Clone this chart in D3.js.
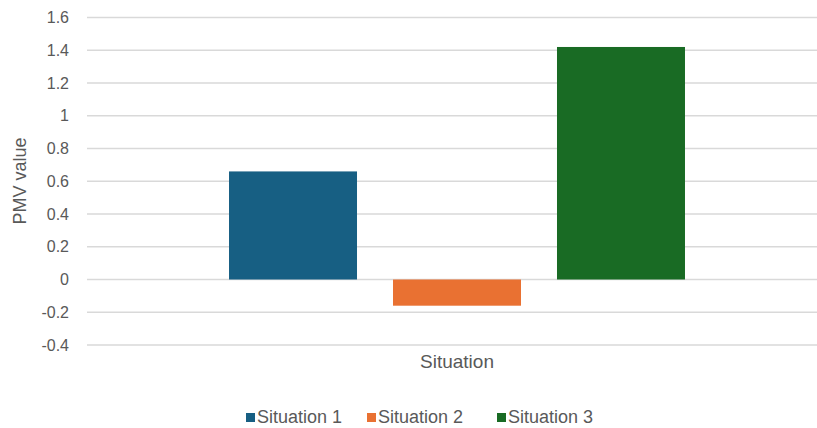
<!DOCTYPE html>
<html><head><meta charset="utf-8">
<script src="https://cdn.jsdelivr.net/npm/d3@7"></script>
<style>body{margin:0;background:#fff}svg{display:block}text{font-family:"Liberation Sans",Arial,sans-serif;fill:#595959}</style>
</head><body><div id="c"></div>
<script>
const categories = ["Situation"];
const seriesNames = ["Situation 1", "Situation 2", "Situation 3"];
const seriesValues = [0.66, -0.16, 1.42];
const colors = ["#175f83", "#e97132", "#196b24"];
const yTicks = [-0.4, -0.2, 0, 0.2, 0.4, 0.6, 0.8, 1, 1.2, 1.4, 1.6];

const W = 817, H = 428;
const svg = d3.select("#c").append("svg").attr("width", W).attr("height", H);
const y = d3.scaleLinear().domain([-0.4, 1.6]).range([345, 17.5]);
const x0 = d3.scaleBand().domain(categories).range([87, 827]);
const x1 = d3.scaleBand().domain(seriesNames).range([0, x0.bandwidth()]).paddingInner(0.2195).paddingOuter(0.866);

svg.append("g").selectAll("line").data(yTicks).join("line")
  .attr("x1", 87).attr("x2", W).attr("y1", d => y(d)).attr("y2", d => y(d))
  .attr("stroke", "#d9d9d9").attr("stroke-width", 1.3);

const yAxis = d3.axisLeft(y).tickValues(yTicks).tickSize(0).tickPadding(0).tickFormat(d => String(+d.toFixed(1)));
const ga = svg.append("g").attr("transform", "translate(69,0)").call(yAxis);
ga.select(".domain").remove();
ga.selectAll("text").attr("font-size", 16).style("font-family", '"Liberation Sans",Arial,sans-serif').attr("fill", "#595959");

const g = svg.append("g").attr("transform", `translate(${x0(categories[0])},0)`);
g.selectAll("rect").data(seriesValues).join("rect")
  .attr("x", (d, i) => x1(seriesNames[i]))
  .attr("width", x1.bandwidth())
  .attr("y", d => y(Math.max(0, d)))
  .attr("height", d => Math.abs(y(d) - y(0)))
  .attr("fill", (d, i) => colors[i]);

svg.append("text").attr("transform", `translate(26,181) rotate(-90)`)
  .attr("text-anchor", "middle").attr("font-size", 18).text("PMV value");
svg.append("text").attr("x", x0(categories[0]) + x0.bandwidth() / 2).attr("y", 368)
  .attr("text-anchor", "middle").attr("font-size", 19).text(categories[0]);

const legX = [246, 367, 497];
const lg = svg.append("g").selectAll("g").data(seriesNames).join("g")
  .attr("transform", (d, i) => `translate(${legX[i]},0)`);
lg.append("rect").attr("x", 0).attr("y", 413).attr("width", 9).attr("height", 9).attr("fill", (d, i) => colors[i]);
lg.append("text").attr("x", 11).attr("y", 423).attr("font-size", 18).text(d => d);
</script></body></html>
